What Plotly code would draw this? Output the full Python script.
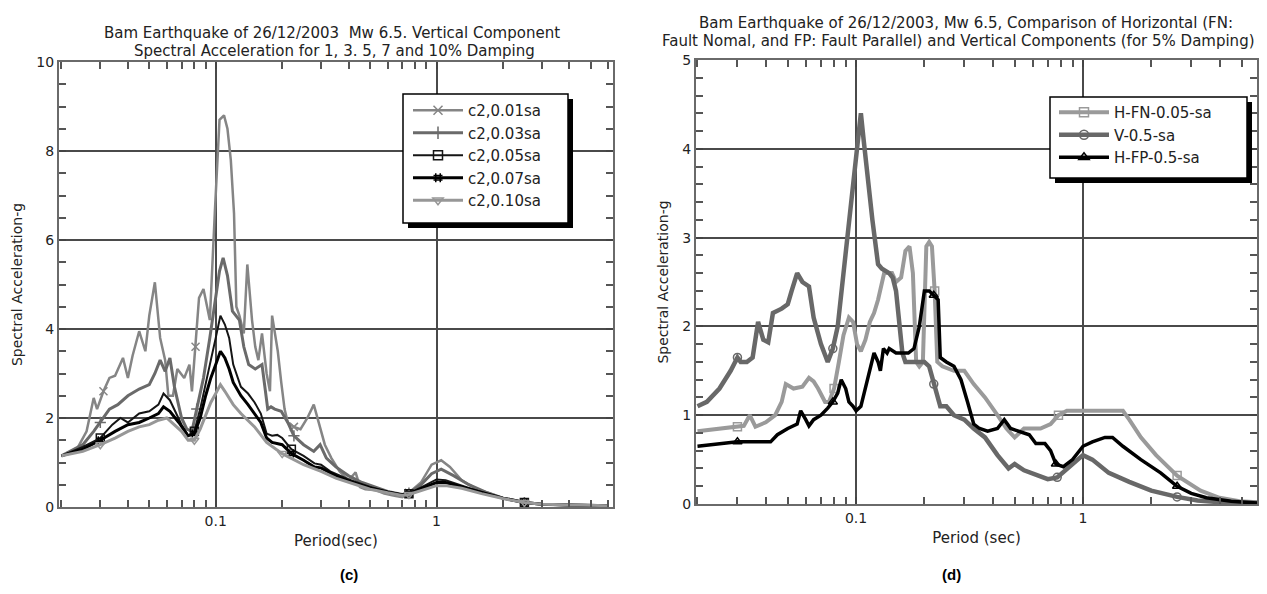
import math
import plotly.graph_objects as go

# ---------------- (c) Vertical component, several dampings ----------------
T_C01 = [0.02, 0.0235, 0.026, 0.028, 0.029, 0.031, 0.033, 0.035, 0.038, 0.040, 0.042, 0.045, 0.048, 0.050,
         0.053, 0.056, 0.059, 0.061, 0.064, 0.067, 0.072, 0.076, 0.078, 0.081, 0.084, 0.088, 0.094, 0.099,
         0.104, 0.109, 0.113, 0.117, 0.121, 0.124, 0.128, 0.134, 0.139, 0.146, 0.151, 0.156, 0.162, 0.170,
         0.176, 0.180, 0.191, 0.198, 0.205, 0.212, 0.226, 0.242, 0.260, 0.278, 0.297, 0.312, 0.334, 0.364,
         0.40, 0.43, 0.45, 0.476, 0.53, 0.58, 0.645, 0.70, 0.75, 0.85, 0.95, 1.05, 1.15, 1.3, 1.5, 1.8,
         2.0, 2.5, 3.0, 4.0, 6.0]
SA_C01 = [1.15, 1.3, 1.7, 2.45, 2.2, 2.6, 2.9, 2.95, 3.35, 2.9, 3.4, 3.95, 3.5, 4.3,
          5.05, 3.8, 3.3, 2.5, 2.5, 3.1, 2.9, 3.2, 2.6, 3.6, 4.7, 4.9, 4.2, 6.6,
          8.7, 8.8, 8.5, 7.8, 6.6, 4.5, 4.3, 3.9, 5.45, 4.2, 3.6, 3.3, 3.9, 3.0,
          2.6, 4.3, 3.5, 2.8, 2.2, 1.9, 1.8, 1.75, 2.0, 2.3, 1.8, 1.4, 1.1, 0.8,
          0.6, 0.78, 0.45, 0.4, 0.38, 0.3, 0.25, 0.22, 0.32, 0.55, 0.95, 1.05, 0.9, 0.6, 0.42, 0.28,
          0.2, 0.1, 0.06, 0.04, 0.03]

T_C03 = [0.02, 0.025, 0.028, 0.030, 0.033, 0.036, 0.040, 0.045, 0.050, 0.053, 0.056, 0.059, 0.062, 0.065,
         0.070, 0.074, 0.078, 0.082, 0.088, 0.094, 0.099, 0.104, 0.108, 0.113, 0.119, 0.128, 0.134, 0.141,
         0.151, 0.162, 0.172, 0.178, 0.185, 0.198, 0.212, 0.226, 0.25, 0.278, 0.297, 0.317, 0.35, 0.40,
         0.46, 0.53, 0.60, 0.70, 0.75, 0.85, 0.95, 1.05, 1.2, 1.4, 1.7, 2.0, 2.5, 3.0, 4.0, 6.0]
SA_C03 = [1.15, 1.4, 1.7, 1.9, 2.2, 2.3, 2.5, 2.65, 2.75, 3.0, 3.3, 3.05, 3.35, 2.7,
          2.0, 1.75, 1.7, 2.2, 2.9, 3.8, 4.6, 5.3, 5.6, 5.2, 4.4, 4.2, 3.6, 3.2,
          3.1, 3.2, 2.2, 2.25, 2.2, 2.15, 1.9, 1.6, 1.4, 1.25, 1.4, 1.1, 0.9, 0.7,
          0.55, 0.45, 0.35, 0.28, 0.31, 0.5, 0.75, 0.85, 0.7, 0.5, 0.32, 0.2, 0.1, 0.06, 0.04, 0.03]

T_C05 = [0.02, 0.025, 0.03, 0.034, 0.037, 0.04, 0.045, 0.05, 0.055, 0.058, 0.062, 0.066, 0.07, 0.075,
         0.08, 0.085, 0.09, 0.095, 0.1, 0.105, 0.11, 0.115, 0.12, 0.13, 0.14, 0.15, 0.16, 0.17, 0.18,
         0.19, 0.2, 0.22, 0.25, 0.28, 0.3, 0.33, 0.4, 0.5, 0.6, 0.7, 0.75, 0.9, 1.0, 1.1, 1.3, 1.6, 2.0,
         2.5, 3.0, 6.0]
SA_C05 = [1.15, 1.35, 1.55, 1.85, 2.0, 1.9, 2.1, 2.15, 2.3, 2.55, 2.4, 2.1, 1.85, 1.6,
          1.7, 2.2, 2.8, 3.3, 3.8, 4.3, 4.1, 3.8, 3.2, 2.7, 2.55, 2.35, 2.1, 1.65, 1.6,
          1.62, 1.55, 1.3, 1.15, 0.98, 0.95, 0.8, 0.62, 0.45, 0.35, 0.28, 0.3, 0.5, 0.62, 0.6, 0.48, 0.33, 0.2,
          0.1, 0.06, 0.03]

T_C07 = [0.02, 0.025, 0.03, 0.035, 0.04, 0.045, 0.05, 0.055, 0.058, 0.062, 0.068, 0.075, 0.08, 0.085,
         0.09, 0.095, 0.1, 0.105, 0.11, 0.115, 0.12, 0.13, 0.14, 0.15, 0.16, 0.17, 0.18, 0.2, 0.22, 0.25,
         0.28, 0.3, 0.35, 0.4, 0.5, 0.6, 0.7, 0.75, 0.9, 1.0, 1.1, 1.3, 1.6, 2.0, 2.5, 3.0, 6.0]
SA_C07 = [1.15, 1.3, 1.5, 1.7, 1.85, 1.9, 2.0, 2.1, 2.25, 2.15, 1.9, 1.6, 1.65, 2.0,
          2.5, 2.9, 3.2, 3.5, 3.35, 3.1, 2.8, 2.5, 2.3, 2.1, 1.9, 1.55, 1.45, 1.4, 1.2, 1.05,
          0.9, 0.88, 0.7, 0.58, 0.43, 0.33, 0.27, 0.3, 0.45, 0.55, 0.55, 0.45, 0.32, 0.2, 0.1, 0.06, 0.03]

T_C10 = [0.02, 0.025, 0.03, 0.035, 0.04, 0.045, 0.05, 0.055, 0.06, 0.065, 0.07, 0.075, 0.08, 0.085,
         0.09, 0.095, 0.1, 0.105, 0.11, 0.12, 0.13, 0.14, 0.15, 0.17, 0.2, 0.25, 0.3, 0.35, 0.4, 0.5,
         0.6, 0.7, 0.75, 0.9, 1.0, 1.1, 1.3, 1.6, 2.0, 2.5, 3.0, 6.0]
SA_C10 = [1.15, 1.25, 1.4, 1.55, 1.7, 1.8, 1.85, 1.95, 2.0, 1.85, 1.7, 1.5, 1.5, 1.75,
          2.05, 2.35, 2.55, 2.75, 2.6, 2.3, 2.1, 1.95, 1.8, 1.45, 1.2, 0.95, 0.8, 0.65, 0.55, 0.4,
          0.32, 0.26, 0.28, 0.4, 0.48, 0.48, 0.42, 0.3, 0.19, 0.1, 0.06, 0.03]

# ---------------- (d) Horizontal FN / FP and vertical, 5% damping ----------------
T_HFN = [0.02, 0.025, 0.03, 0.032, 0.034, 0.036, 0.04, 0.044, 0.047, 0.049, 0.053, 0.058, 0.062, 0.065,
         0.068, 0.073, 0.076, 0.08, 0.084, 0.088, 0.093, 0.097, 0.101, 0.105, 0.11, 0.115, 0.12, 0.125,
         0.133, 0.144, 0.15, 0.158, 0.165, 0.172, 0.178, 0.184, 0.19, 0.197, 0.204, 0.21, 0.216, 0.222,
         0.228, 0.24, 0.27, 0.30, 0.33, 0.37, 0.42, 0.46, 0.5, 0.55, 0.65, 0.72, 0.78, 0.85, 1.0, 1.3,
         1.5, 1.6, 1.8, 2.1, 2.6, 3.3, 4.0, 4.9, 5.85]
SA_HFN = [0.82, 0.85, 0.87, 0.88, 1.0, 0.87, 0.92, 1.0, 1.15, 1.35, 1.3, 1.32, 1.42, 1.38,
          1.3, 1.15, 1.15, 1.3, 1.6, 1.9, 2.1, 2.05, 1.8, 1.72, 1.85, 2.05, 2.15, 2.3,
          2.6, 2.6, 2.5, 2.55, 2.85, 2.9, 2.6, 1.6, 1.55, 1.6, 2.9, 2.95, 2.9, 2.4,
          1.6, 1.55, 1.5, 1.5, 1.35, 1.2, 1.0, 0.85, 0.75, 0.85, 0.85, 0.9, 1.0, 1.05, 1.05, 1.05,
          1.05, 0.95, 0.75, 0.55, 0.32, 0.15, 0.07, 0.03, 0.02]

T_V = [0.02, 0.022, 0.025, 0.028, 0.03, 0.031, 0.033, 0.035, 0.037, 0.039, 0.041, 0.043, 0.047, 0.05,
       0.052, 0.055, 0.058, 0.062, 0.065, 0.07, 0.075, 0.079, 0.083, 0.087, 0.092, 0.097, 0.102, 0.105,
       0.108, 0.112, 0.118, 0.125, 0.13, 0.14, 0.145, 0.15, 0.16, 0.165, 0.18, 0.2, 0.21, 0.22, 0.235,
       0.25, 0.27, 0.3, 0.33, 0.37, 0.42, 0.47, 0.5, 0.55, 0.62, 0.7, 0.77, 0.85, 0.95, 1.0, 1.1, 1.3,
       1.6, 2.0, 2.6, 3.2, 4.0, 5.85]
SA_V = [1.1, 1.15, 1.3, 1.5, 1.65, 1.6, 1.6, 1.65, 2.05, 1.85, 1.82, 2.15, 2.2, 2.25,
        2.4, 2.6, 2.5, 2.45, 2.1, 1.8, 1.6, 1.75, 2.0, 2.5, 3.0, 3.6, 4.2, 4.4,
        4.1, 3.7, 3.2, 2.7, 2.65, 2.6, 2.55, 2.4, 1.7, 1.6, 1.6, 1.6, 1.55, 1.35, 1.1,
        1.1, 1.0, 0.95, 0.85, 0.75, 0.55, 0.4, 0.45, 0.38, 0.33, 0.28, 0.3, 0.4, 0.5, 0.55, 0.5, 0.35,
        0.25, 0.15, 0.08, 0.04, 0.02, 0.01]

T_HFP = [0.02, 0.025, 0.03, 0.035, 0.04, 0.042, 0.045, 0.05, 0.055, 0.057, 0.06, 0.062, 0.065, 0.07,
         0.075, 0.079, 0.083, 0.086, 0.09, 0.093, 0.097, 0.1, 0.105, 0.11, 0.115, 0.12, 0.125, 0.128,
         0.132, 0.137, 0.14, 0.15, 0.17, 0.18, 0.19, 0.2, 0.21, 0.22, 0.23, 0.235, 0.25, 0.27, 0.29,
         0.31, 0.33, 0.35, 0.38, 0.42, 0.45, 0.48, 0.52, 0.58, 0.62, 0.68, 0.72, 0.76, 0.82, 0.9, 1.0,
         1.1, 1.25, 1.35, 1.5, 1.8, 2.2, 2.6, 3.0, 3.5, 4.5, 5.85]
SA_HFP = [0.65, 0.68, 0.7, 0.7, 0.7, 0.7, 0.78, 0.85, 0.9, 1.05, 0.95, 0.88, 0.95, 1.0,
          1.08, 1.15, 1.25, 1.4, 1.3, 1.15, 1.1, 1.05, 1.1, 1.3, 1.5, 1.7, 1.6, 1.5,
          1.75, 1.7, 1.75, 1.7, 1.7, 1.75, 2.0, 2.4, 2.4, 2.35, 2.3, 1.65, 1.6, 1.55, 1.4,
          1.15, 0.9, 0.85, 0.82, 0.85, 0.95, 0.85, 0.82, 0.78, 0.68, 0.68, 0.6, 0.45, 0.42, 0.5, 0.65,
          0.7, 0.75, 0.75, 0.65, 0.5, 0.35, 0.2, 0.12, 0.07, 0.03, 0.01]

# periods at which the original plotting program drew its sparse markers
MARK_T = [0.03, 0.08, 0.22, 0.75, 2.6]

LEG_C = ["c2,0.01sa", "c2,0.03sa", "c2,0.05sa", "c2,0.07sa", "c2,0.10sa"]
LEG_D = ["H-FN-0.05-sa", "V-0.5-sa", "H-FP-0.5-sa"]
X_TICKS = [0.1, 1]
X_TICK_TEXT = ["0.1", "1"]
X_MINOR = [0.02, 0.03, 0.04, 0.05, 0.06, 0.07, 0.08, 0.09,
           0.2, 0.3, 0.4, 0.5, 0.6, 0.7, 0.8, 0.9, 2, 3, 4, 5, 6]

FONT = "DejaVu Sans, Liberation Sans, Arial, sans-serif"
TXT = "#222222"
W, H = 1267, 594


def px_x(v):
    return v / W


def px_y(v):
    return 1 - v / H


def marker_idx(t):
    out = []
    for m in MARK_T:
        best = min(range(len(t)), key=lambda i: abs(math.log10(t[i]) - math.log10(m)))
        out.append(best)
    return out


def add_series(fig, t, sa, name, color, width, symbol, xa, ya, legend):
    fig.add_trace(go.Scatter(x=t, y=sa, mode="lines", line=dict(color=color, width=width),
                             xaxis=xa, yaxis=ya, showlegend=False, hoverinfo="skip"))
    idx = marker_idx(t)
    fig.add_trace(go.Scatter(x=[t[i] for i in idx], y=[sa[i] for i in idx], mode="markers",
                             marker=dict(symbol=symbol, size=8, color=color, line=dict(width=1.5, color=color)),
                             xaxis=xa, yaxis=ya, showlegend=False, hoverinfo="skip"))
    # legend entry (line + symbol)
    fig.add_trace(go.Scatter(x=[None], y=[None], mode="lines+markers", name=name,
                             line=dict(color=color, width=width),
                             marker=dict(symbol=symbol, size=9, color=color, line=dict(width=1.5, color=color)),
                             xaxis=xa, yaxis=ya, legend=legend))


fig = go.Figure()
add_series(fig, T_C01, SA_C01, LEG_C[0], "#858585", 2.5, "x-thin-open", "x", "y", "legend")
add_series(fig, T_C03, SA_C03, LEG_C[1], "#6a6a6a", 3, "cross-thin-open", "x", "y", "legend")
add_series(fig, T_C05, SA_C05, LEG_C[2], "#151515", 2, "square-open", "x", "y", "legend")
add_series(fig, T_C07, SA_C07, LEG_C[3], "#000000", 3, "hash-open", "x", "y", "legend")
add_series(fig, T_C10, SA_C10, LEG_C[4], "#979797", 3, "triangle-down-open", "x", "y", "legend")

add_series(fig, T_HFN, SA_HFN, LEG_D[0], "#9a9a9a", 4, "square-open", "x2", "y2", "legend2")
add_series(fig, T_V, SA_V, LEG_D[1], "#686868", 4.5, "circle-open", "x2", "y2", "legend2")
add_series(fig, T_HFP, SA_HFP, LEG_D[2], "#000000", 3.5, "triangle-up-open", "x2", "y2", "legend2")


def xaxis_cfg(domain, rng, title, ya):
    return dict(domain=domain, type="log", range=[math.log10(rng[0]), math.log10(rng[1])], anchor=ya,
                tickmode="array", tickvals=X_TICKS, ticktext=X_TICK_TEXT,
                ticks="inside", ticklen=7, tickwidth=1.5, tickcolor="#444",
                minor=dict(tickmode="array", tickvals=X_MINOR, ticks="inside", ticklen=7,
                           tickwidth=1.5, tickcolor="#555", showgrid=False),
                showgrid=True, gridcolor="#4a4a4a", gridwidth=1.5,
                showline=True, linecolor="#6a6a6a", linewidth=2, mirror="ticks",
                tickfont=dict(family=FONT, size=14, color=TXT),
                title=dict(text=title, font=dict(family=FONT, size=15, color=TXT), standoff=8),
                zeroline=False, automargin=False)


def yaxis_cfg(domain, rng, dtick, minor, xa):
    return dict(domain=domain, range=rng, dtick=dtick, tick0=0, anchor=xa,
                ticks="inside", ticklen=7, tickwidth=1.5, tickcolor="#444",
                minor=dict(dtick=minor, ticks="inside", ticklen=7, tickwidth=1.5,
                           tickcolor="#555", showgrid=False),
                showgrid=True, gridcolor="#4a4a4a", gridwidth=1.5,
                showline=True, linecolor="#6a6a6a", linewidth=2, mirror="ticks",
                tickfont=dict(family=FONT, size=14, color=TXT),
                title=dict(text="Spectral Acceleration-g", font=dict(family=FONT, size=14, color=TXT), standoff=10),
                zeroline=False, automargin=False)


# legend frames (white box with a dark drop shadow) drawn as shapes
LEG_BOX_C = (395, 86, 560, 215)
LEG_BOX_D = (1042, 89, 1239, 170)
shapes = []
for (x0, y0, x1, y1) in (LEG_BOX_C, LEG_BOX_D):
    shapes.append(dict(type="rect", xref="paper", yref="paper", layer="above",
                       x0=px_x(x0 + 5), x1=px_x(x1 + 5), y0=px_y(y1 + 5), y1=px_y(y0 + 5),
                       fillcolor="#000", line=dict(width=0)))
    shapes.append(dict(type="rect", xref="paper", yref="paper", layer="above",
                       x0=px_x(x0), x1=px_x(x1), y0=px_y(y1), y1=px_y(y0),
                       fillcolor="#fff", line=dict(color="#000", width=1.5)))

fig.update_layout(
    width=W, height=H, margin=dict(l=0, r=0, t=0, b=0),
    paper_bgcolor="white", plot_bgcolor="white",
    xaxis=xaxis_cfg([px_x(51), px_x(605)], (0.0195, 6.3), "Period(sec)", "y"),
    yaxis=yaxis_cfg([px_y(499), px_y(54)], [0, 10], 2, 0.5, "x"),
    xaxis2=xaxis_cfg([px_x(688), px_x(1249)], (0.0197, 5.85), "Period (sec)", "y2"),
    yaxis2=yaxis_cfg([px_y(496), px_y(52)], [0, 5], 1, 0.2, "x2"),
    legend=dict(x=px_x(400), y=px_y(86), xanchor="left", yanchor="top", bgcolor="rgba(0,0,0,0)",
                borderwidth=0, font=dict(family=FONT, size=15, color=TXT),
                tracegroupgap=0, itemwidth=50),
    legend2=dict(x=px_x(1046), y=px_y(88), xanchor="left", yanchor="top", bgcolor="rgba(0,0,0,0)",
                 borderwidth=0, font=dict(family=FONT, size=15, color=TXT),
                 tracegroupgap=0, itemwidth=50),
    showlegend=True,
    shapes=shapes,
)

ann = [
    dict(text="Bam Earthquake of 26/12/2003  Mw 6.5. Vertical Component", x=px_x(324), y=px_y(25), size=15),
    dict(text="Spectral Acceleration for 1, 3. 5, 7 and 10% Damping", x=px_x(326), y=px_y(43), size=15),
    dict(text="Bam Earthquake of 26/12/2003, Mw 6.5, Comparison of Horizontal (FN:", x=px_x(958), y=px_y(15), size=15),
    dict(text="Fault Nomal, and FP: Fault Parallel) and Vertical Components (for 5% Damping)", x=px_x(950), y=px_y(33), size=15),
]
for a in ann:
    size = a.pop("size")
    fig.add_annotation(xref="paper", yref="paper", showarrow=False, xanchor="center", yanchor="middle",
                       font=dict(family=FONT, size=size, color=TXT), **a)
fig.add_annotation(text="<b>(c)</b>", x=px_x(330), y=px_y(577), xref="paper", yref="paper", showarrow=False,
                   font=dict(family="Liberation Sans, Arial, sans-serif", size=15, color="#000"))
fig.add_annotation(text="<b>(d)</b>", x=px_x(955), y=px_y(577), xref="paper", yref="paper", showarrow=False,
                   font=dict(family="Liberation Sans, Arial, sans-serif", size=15, color="#000"))

fig.write_html("out.html")
